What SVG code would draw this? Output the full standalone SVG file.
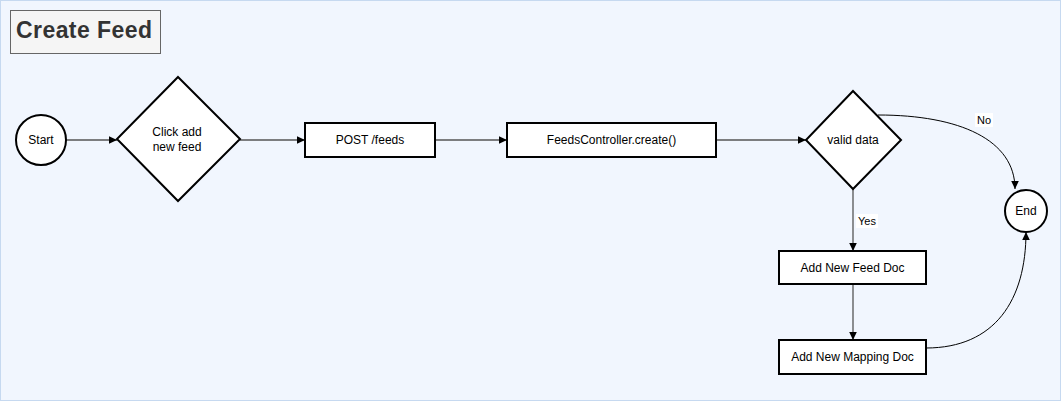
<svg xmlns="http://www.w3.org/2000/svg" width="1061" height="401" viewBox="0 0 1061 401">
<style>
.node{fill:#fff;stroke:#000;stroke-width:2}
.t{font-family:"Liberation Sans",Arial,sans-serif;font-size:12px;fill:#000;text-anchor:middle;dominant-baseline:central}
.e{fill:none;stroke:#555;stroke-width:1.3}
.c{fill:none;stroke:#000;stroke-width:1}
.lbl{font-family:"Liberation Sans",Arial,sans-serif;font-size:11px;fill:#000;text-anchor:middle;dominant-baseline:central}
</style>
<defs>
<marker id="ah" markerUnits="userSpaceOnUse" markerWidth="10" markerHeight="10" viewBox="0 0 10 10" refX="9" refY="5" orient="auto">
<path d="M1,1.2 L9,5 L1,8.8 Z" fill="#000"/>
</marker>
</defs>
<rect x="0.5" y="0.5" width="1060" height="400" fill="#f1f6fe" stroke="#c6d9f0" stroke-width="1"/>
<g id="title">
<rect x="10.5" y="10.5" width="150" height="43" fill="#f5f5f5" stroke="#666" stroke-width="1"/>
<text x="16" y="38" font-family="Liberation Sans,Arial,sans-serif" font-size="23" font-weight="bold" fill="#333" textLength="136" lengthAdjust="spacing">Create Feed</text>
</g>
<g id="connectors">
<line class="e" x1="66" y1="140" x2="117" y2="140" marker-end="url(#ah)"/>
<line class="e" x1="240" y1="140" x2="305" y2="140" marker-end="url(#ah)"/>
<line class="e" x1="435" y1="140" x2="507" y2="140" marker-end="url(#ah)"/>
<line class="e" x1="716" y1="140" x2="806" y2="140" marker-end="url(#ah)"/>
<line class="e" x1="853" y1="189" x2="853" y2="251" marker-end="url(#ah)"/>
<line class="e" x1="853" y1="284" x2="853" y2="340" marker-end="url(#ah)"/>
<path class="c" d="M878,115 C960,115 1015,140 1015,189" marker-end="url(#ah)"/>
<path class="c" d="M926,348 C995,348 1026,300 1026,232" marker-end="url(#ah)"/>
<rect x="975" y="113" width="18" height="14" fill="#fff"/>
<text class="lbl" x="984" y="120">No</text>
<rect x="856" y="214" width="22" height="14" fill="#fff"/>
<text class="lbl" x="867" y="221">Yes</text>
</g>
<g id="start">
<circle class="node" cx="41" cy="140" r="25"/>
<text class="t" x="41" y="140">Start</text>
</g>
<g id="click">
<polygon class="node" points="178,77 240,139 178,201 117,139"/>
<text class="t" x="177" y="132">Click add</text>
<text class="t" x="177" y="147">new feed</text>
</g>
<g id="post">
<rect class="node" x="305" y="123" width="130" height="34"/>
<text class="t" x="370" y="140">POST /feeds</text>
</g>
<g id="controller">
<rect class="node" x="507" y="123" width="209" height="34"/>
<text class="t" x="611.5" y="140">FeedsController.create()</text>
</g>
<g id="valid">
<polygon class="node" points="853,91 901,140 853,189 806,140"/>
<text class="t" x="853" y="140">valid data</text>
</g>
<g id="end">
<circle class="node" cx="1026" cy="211" r="21"/>
<text class="t" x="1026" y="211">End</text>
</g>
<g id="feeddoc">
<rect class="node" x="779" y="251" width="147" height="33"/>
<text class="t" x="852.5" y="267.5">Add New Feed Doc</text>
</g>
<g id="mappingdoc">
<rect class="node" x="779" y="340" width="147" height="34"/>
<text class="t" x="852.5" y="357">Add New Mapping Doc</text>
</g>
</svg>
